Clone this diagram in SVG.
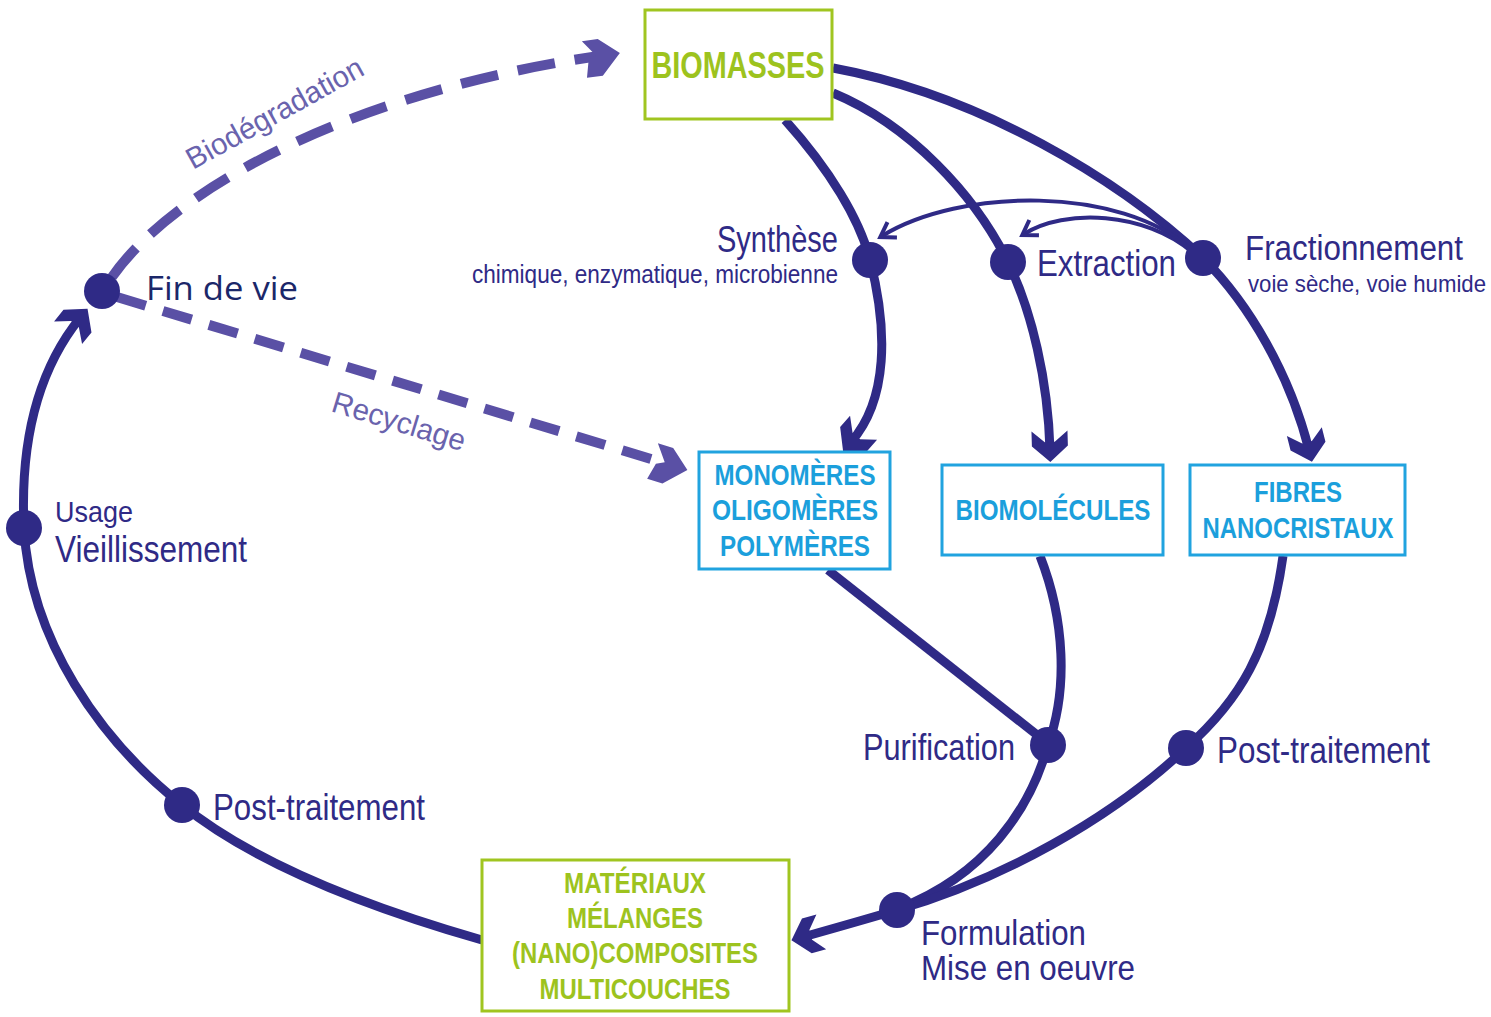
<svg xmlns="http://www.w3.org/2000/svg" width="1491" height="1017" viewBox="0 0 1491 1017">
<style>
.main{fill:none;stroke:#2f2a86;stroke-width:9}
.thin{fill:none;stroke:#2f2a86;stroke-width:4}
.dash{fill:none;stroke:#5a50a5;stroke-width:10}
.dot{fill:#2f2a86}
.lbl{font-family:"Liberation Sans Narrow","Liberation Sans",Arial,sans-serif;fill:#2f2a86}
.dlbl{font-family:"Liberation Sans Narrow","Liberation Sans",Arial,sans-serif;fill:#6a63ad;font-size:30px}
.box{font-family:"Liberation Sans Narrow","Liberation Sans",Arial,sans-serif;font-weight:bold;text-anchor:middle}
.gbox{fill:#fff;stroke:#a0c520;stroke-width:3}
.cbox{fill:#fff;stroke:#21a3df;stroke-width:3}
.gt{fill:#9dc31e}
.ct{fill:#1b9fdc}
</style>
<defs>
<marker id="ah" markerUnits="userSpaceOnUse" viewBox="-25 -22 40 44" markerWidth="40" markerHeight="44" refX="0" refY="0" orient="auto" overflow="visible">
<path d="M12,0 L-4,-18 L-19,-18 L-8,-5 L-8,5 L-19,18 L-4,18 Z" fill="#2f2a86"/>
</marker>
<marker id="ahs" markerUnits="userSpaceOnUse" viewBox="-16 -12 24 24" markerWidth="24" markerHeight="24" refX="0" refY="0" orient="auto" overflow="visible">
<path d="M-12,-9 L2,0 L-12,9" fill="none" stroke="#2f2a86" stroke-width="4"/>
</marker>
<marker id="ahd" markerUnits="userSpaceOnUse" viewBox="-25 -22 40 44" markerWidth="40" markerHeight="44" refX="0" refY="0" orient="auto" overflow="visible">
<path d="M14,0 L-6,-17 L-22,-17 L-10,-1 L-18,3 L-22,20 L-6,20 Z" fill="#5a50a5"/>
</marker>
</defs>
<g id="connectors">
<path class="main" d="M785,120 C 830,170 860,220 870,260 C 888,330 888,400 851,442" marker-end="url(#ah)"/>
<path class="main" d="M833,93 C 910,125 975,195 1008,262 C 1032,312 1048,380 1050,450" marker-end="url(#ah)"/>
<path class="main" d="M833,68 C 980,95 1120,180 1203,258 C 1250,305 1290,375 1309,450" marker-end="url(#ah)"/>
<path class="thin" d="M1192,250 C 1120,185 960,188 882,236" marker-end="url(#ahs)"/>
<path class="thin" d="M1192,252 C 1145,212 1065,208 1024,234" marker-end="url(#ahs)"/>
<path class="main" d="M828,570 L1046,742"/>
<path class="main" d="M1040,556 C 1065,620 1068,690 1048,745 C 1030,810 985,875 900,908"/>
<path class="main" d="M1283,556 C 1270,650 1240,700 1186,748 C 1110,820 1000,880 897,910 C 860,921 835,928 803,937" marker-end="url(#ah)"/>
<path class="main" d="M482,940 C 360,905 250,860 182,805 C 100,740 30,640 24,528 C 20,440 38,370 80,318" marker-end="url(#ah)"/>
<path class="dash" d="M112,277 C 180,180 370,88 606,55" stroke-dasharray="38 20" marker-end="url(#ahd)"/>
<path class="dash" d="M117,297 L 674,466" stroke-dasharray="30 18" marker-end="url(#ahd)"/>
</g>
<g id="dots">
<circle class="dot" cx="102" cy="291" r="18"/>
<circle class="dot" cx="870" cy="260" r="18"/>
<circle class="dot" cx="1008" cy="262" r="18"/>
<circle class="dot" cx="1203" cy="258" r="18"/>
<circle class="dot" cx="24" cy="528" r="18"/>
<circle class="dot" cx="182" cy="805" r="18"/>
<circle class="dot" cx="1048" cy="745" r="18"/>
<circle class="dot" cx="1186" cy="748" r="18"/>
<circle class="dot" cx="897" cy="910" r="18"/>
</g>
<g id="biomasses">
<rect class="gbox" x="645" y="10" width="187" height="109"/>
<text class="box gt" x="738" y="78" font-size="36" textLength="173" lengthAdjust="spacingAndGlyphs">BIOMASSES</text>
</g>
<g id="monomeres">
<rect class="cbox" x="699" y="452" width="191" height="117"/>
<text class="box ct" x="795" y="485" font-size="30" textLength="161" lengthAdjust="spacingAndGlyphs">MONOMÈRES</text>
<text class="box ct" x="795" y="520" font-size="30" textLength="166" lengthAdjust="spacingAndGlyphs">OLIGOMÈRES</text>
<text class="box ct" x="795" y="556" font-size="30" textLength="150" lengthAdjust="spacingAndGlyphs">POLYMÈRES</text>
</g>
<g id="biomolecules">
<rect class="cbox" x="942" y="465" width="221" height="90"/>
<text class="box ct" x="1053" y="520" font-size="30" textLength="195" lengthAdjust="spacingAndGlyphs">BIOMOLÉCULES</text>
</g>
<g id="fibres">
<rect class="cbox" x="1190" y="465" width="215" height="90"/>
<text class="box ct" x="1298" y="502" font-size="30" textLength="88" lengthAdjust="spacingAndGlyphs">FIBRES</text>
<text class="box ct" x="1298" y="538" font-size="30" textLength="191" lengthAdjust="spacingAndGlyphs">NANOCRISTAUX</text>
</g>
<g id="materiaux">
<rect class="gbox" x="482" y="860" width="307" height="151"/>
<text class="box gt" x="635" y="893" font-size="29" textLength="142" lengthAdjust="spacingAndGlyphs">MATÉRIAUX</text>
<text class="box gt" x="635" y="928" font-size="29" textLength="136" lengthAdjust="spacingAndGlyphs">MÉLANGES</text>
<text class="box gt" x="635" y="963" font-size="29" textLength="246" lengthAdjust="spacingAndGlyphs">(NANO)COMPOSITES</text>
<text class="box gt" x="635" y="999" font-size="29" textLength="191" lengthAdjust="spacingAndGlyphs">MULTICOUCHES</text>
</g>
<g id="labels">
<text x="146" y="300" font-family="'Open Sans','Noto Sans',sans-serif" font-size="32" fill="#1b2769" textLength="152" lengthAdjust="spacingAndGlyphs">Fin de vie</text>
<text class="lbl" x="838" y="252" font-size="36" text-anchor="end" textLength="121" lengthAdjust="spacingAndGlyphs">Synthèse</text>
<text class="lbl" x="838" y="283" font-size="25" text-anchor="end" textLength="366" lengthAdjust="spacingAndGlyphs">chimique, enzymatique, microbienne</text>
<text class="lbl" x="1037" y="276" font-size="37" textLength="139" lengthAdjust="spacingAndGlyphs">Extraction</text>
<text class="lbl" x="1245" y="260" font-size="35" textLength="218" lengthAdjust="spacingAndGlyphs">Fractionnement</text>
<text class="lbl" x="1248" y="292" font-size="24" textLength="238" lengthAdjust="spacingAndGlyphs">voie sèche, voie humide</text>
<text class="lbl" x="55" y="522" font-size="30" textLength="78" lengthAdjust="spacingAndGlyphs">Usage</text>
<text class="lbl" x="55" y="562" font-size="37" textLength="192" lengthAdjust="spacingAndGlyphs">Vieillissement</text>
<text class="lbl" x="213" y="820" font-size="37" textLength="212" lengthAdjust="spacingAndGlyphs">Post-traitement</text>
<text class="lbl" x="1015" y="760" font-size="37" text-anchor="end" textLength="152" lengthAdjust="spacingAndGlyphs">Purification</text>
<text class="lbl" x="1217" y="763" font-size="37" textLength="213" lengthAdjust="spacingAndGlyphs">Post-traitement</text>
<text class="lbl" x="921" y="945" font-size="35" textLength="165" lengthAdjust="spacingAndGlyphs">Formulation</text>
<text class="lbl" x="921" y="980" font-size="35" textLength="214" lengthAdjust="spacingAndGlyphs">Mise en oeuvre</text>
<text class="dlbl" transform="translate(193,170) rotate(-29)" textLength="198" lengthAdjust="spacingAndGlyphs">Biodégradation</text>
<text class="dlbl" transform="translate(330,411) rotate(17)" textLength="138" lengthAdjust="spacingAndGlyphs">Recyclage</text>
</g>
</svg>
